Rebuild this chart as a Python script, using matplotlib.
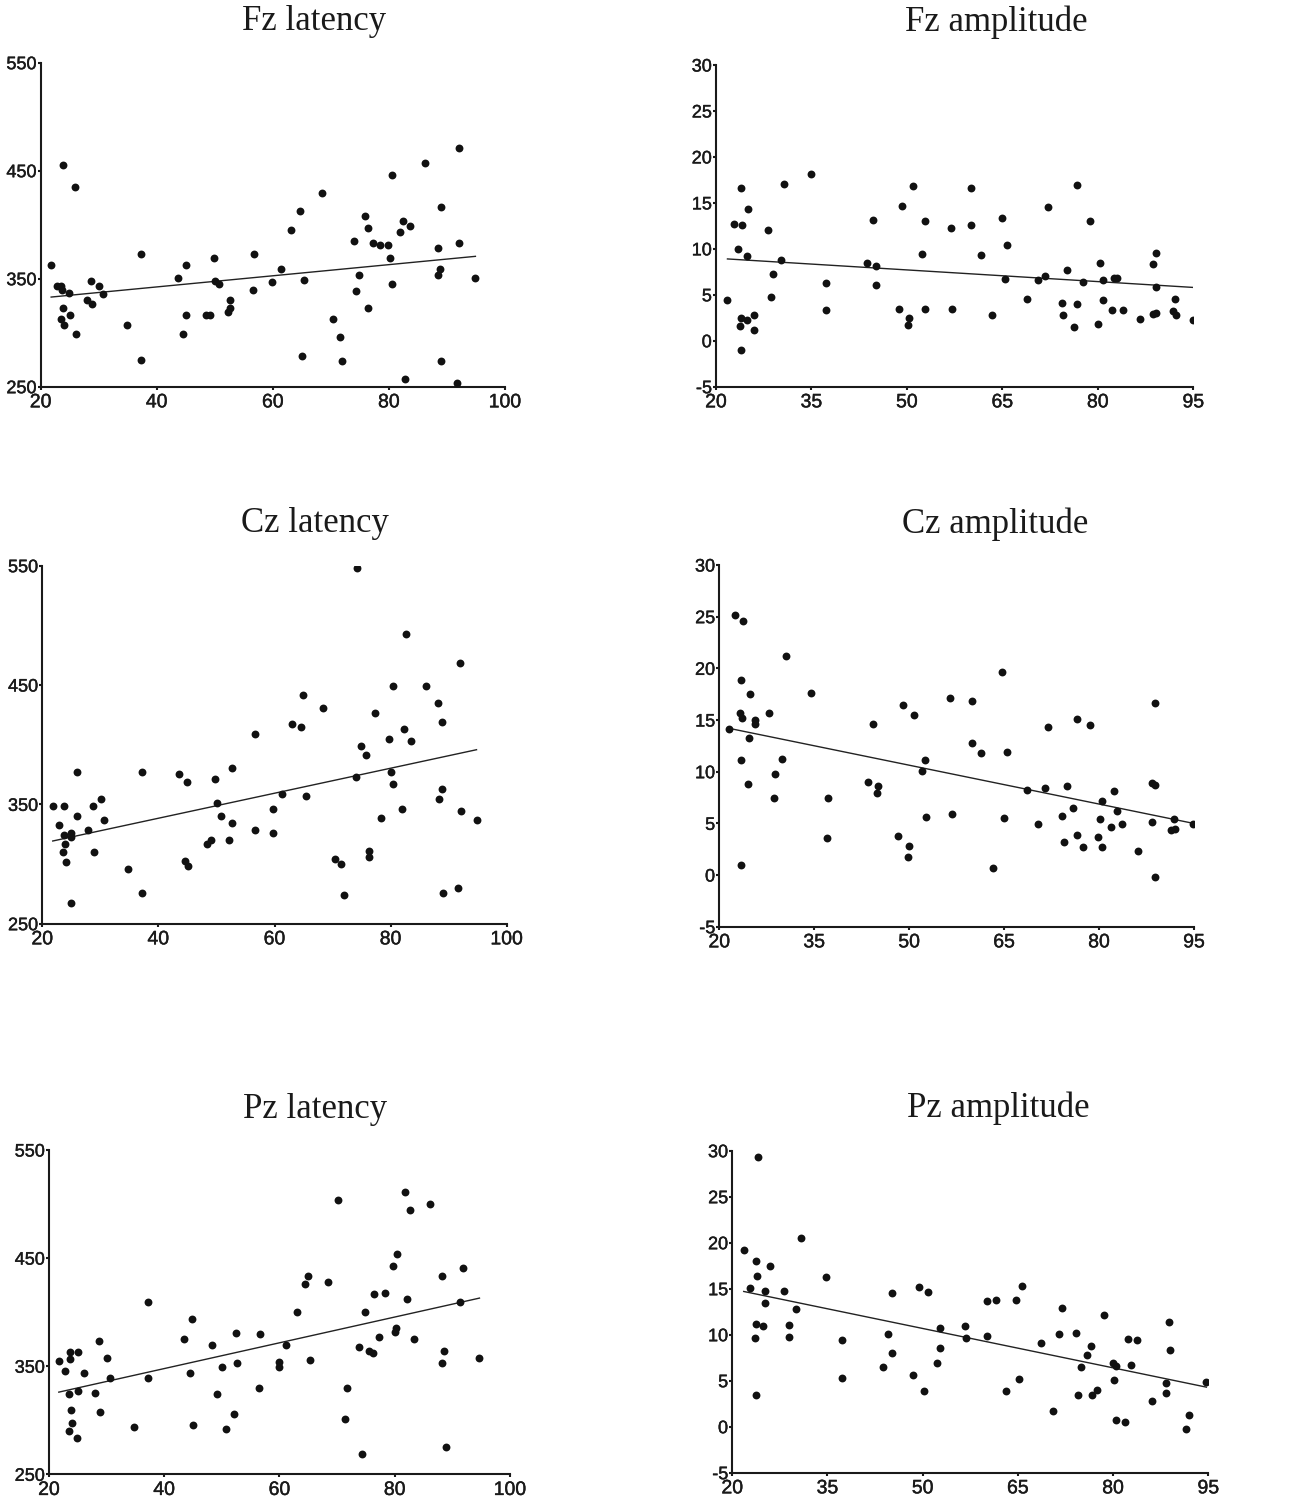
import numpy as np
import matplotlib
matplotlib.use("Agg")
import matplotlib.pyplot as plt
import matplotlib.patheffects as pe

plt.rcParams["axes.unicode_minus"] = False

# ---- data ----------------------------------------------------------------
fz_lat_x = [21.8, 22.8, 23.5, 23.7, 23.8, 23.8, 23.5, 24.1, 24.9, 25.0, 25.9, 26.0,
            28.0, 28.7, 28.9, 30.1, 30.7, 34.8, 37.2, 37.2, 43.6, 44.5, 45.0, 45.1,
            48.4, 49.1, 49.9, 50.1, 50.8, 52.3, 52.6, 52.6, 56.6, 56.8, 59.9, 61.4,
            63.1, 64.6, 65.1, 65.4, 68.5, 70.4, 71.5, 71.9, 74.0, 74.4, 74.9, 75.8,
            76.4, 76.4, 77.3, 78.5, 79.8, 80.2, 80.5, 80.5, 81.9, 82.4, 82.8, 83.6,
            86.2, 88.4, 88.4, 88.8, 88.9, 89.0, 91.7, 92.0, 92.1, 94.9]
fz_lat_y = [363, 343.5, 343.5, 339.5, 455, 323, 313, 307, 337, 316, 435, 299,
            330, 347.5, 327, 343, 335.5, 307, 373, 275, 351, 299, 363, 316,
            316, 316, 369, 348, 345, 319, 330, 323, 339.5, 373, 347, 359,
            395, 413, 278, 349, 429, 313, 296, 273.5, 385, 339, 353, 408,
            397, 323, 383, 381, 381, 369, 445.7, 345, 393, 403, 257, 399,
            457, 378.7, 353, 359, 416.7, 273.5, 253, 471, 383, 351]
fz_lat_fit = ([21.8, 94.9], [333, 370.7])

fz_amp_x = [21.8, 22.8, 23.5, 23.7, 23.9, 23.9, 24.0, 24.1, 24.9, 24.9, 25.1, 26.0,
            26.0, 28.2, 28.7, 29.0, 30.2, 30.7, 34.9, 37.3, 37.3, 43.7, 44.6, 45.2,
            45.2, 48.7, 49.3, 50.1, 50.3, 51.0, 52.4, 52.8, 52.8, 56.9, 57.1, 60.1,
            60.1, 61.6, 63.4, 64.9, 65.4, 65.7, 68.9, 70.6, 71.7, 72.2, 74.4, 74.6,
            75.2, 76.2, 76.7, 76.7, 77.7, 78.7, 80.1, 80.3, 80.8, 80.8, 82.2, 82.6,
            83.0, 83.9, 86.6, 88.6, 88.6, 89.1, 89.1, 89.2, 91.8, 92.1, 92.3, 95.0]
fz_amp_y = [4.4, 12.7, 10.0, 1.6, 2.5, 16.6, -1.0, 12.6, 2.3, 9.2, 14.3, 2.8,
            1.2, 12.0, 4.8, 7.3, 8.8, 17.0, 18.1, 6.3, 3.3, 8.5, 13.1, 8.1,
            6.1, 3.5, 14.7, 1.7, 2.5, 16.8, 9.4, 13.0, 3.5, 12.3, 3.5, 16.6,
            12.6, 9.3, 2.8, 13.4, 6.7, 10.4, 4.5, 6.6, 7.0, 14.6, 4.1, 2.8,
            7.7, 1.5, 16.9, 4.0, 6.4, 13.0, 1.8, 8.5, 6.6, 4.4, 3.3, 6.8,
            6.8, 3.3, 2.4, 8.3, 2.9, 9.5, 3.0, 5.8, 3.2, 4.5, 2.8, 2.3]
fz_amp_fit = ([21.8, 95.0], [8.9, 5.8])

cz_lat_x = [21.8, 22.8, 23.5, 23.7, 23.8, 23.9, 24.1, 24.9, 24.9, 24.9, 25.9, 26.0,
            27.9, 28.7, 28.9, 30.1, 30.7, 34.8, 37.2, 37.2, 43.6, 44.5, 44.9, 45.1,
            48.3, 49.1, 49.8, 50.1, 50.8, 52.2, 52.6, 52.6, 56.6, 56.7, 59.8, 59.8,
            61.3, 63.1, 64.5, 64.9, 65.4, 68.4, 70.4, 71.4, 71.9, 74.0, 74.2, 74.9,
            75.8, 76.3, 76.3, 77.3, 78.4, 79.7, 80.0, 80.4, 80.4, 81.9, 82.3, 82.7,
            83.5, 86.1, 88.2, 88.3, 88.8, 88.8, 89.0, 91.6, 91.9, 92.1, 94.8]
cz_lat_y = [349, 332.4, 310, 348.6, 324.3, 316.5, 301.7, 267.6, 326.3, 322.6, 376.8, 340.2,
            328.2, 349, 310.3, 354.2, 336.6, 296, 377, 275.4, 375.1, 302.2, 369, 298,
            316.5, 320, 371, 350.8, 340.2, 320, 334.4, 380.7, 328.2, 409.2, 346.4, 326.3,
            358.7, 417, 415, 441.3, 357, 431, 304.2, 300, 273.7, 372.9, 548, 399,
            391.3, 311, 306.3, 426.5, 338.5, 405, 377, 448.9, 366.8, 346.4, 412.8, 492.7,
            403, 448.9, 435.2, 354.7, 363, 418.7, 275.7, 280, 468.7, 344.7, 337.2]
cz_lat_fit = ([21.8, 94.8], [319.3, 395.8])

cz_amp_x = [21.5, 22.5, 23.3, 23.5, 23.5, 23.5, 23.6, 23.7, 24.6, 24.7, 24.9, 25.7,
            25.7, 27.8, 28.6, 28.8, 29.9, 30.5, 34.5, 37.0, 37.1, 43.5, 44.3, 44.9,
            45.0, 48.3, 49.1, 49.8, 50.0, 50.7, 52.1, 52.5, 52.6, 56.5, 56.8, 59.9,
            59.9, 61.3, 63.2, 64.6, 65.0, 65.4, 68.6, 70.3, 71.4, 71.9, 74.1, 74.4,
            74.9, 75.9, 76.5, 76.5, 77.4, 78.6, 79.9, 80.1, 80.5, 80.5, 81.9, 82.3,
            82.8, 83.6, 86.2, 88.3, 88.3, 88.8, 88.9, 88.9, 91.4, 91.8, 92.0, 94.8]
cz_amp_y = [14.1, 25.2, 15.7, 18.9, 11.1, 1.0, 15.2, 24.6, 8.8, 13.3, 17.5, 15.0,
            14.6, 15.7, 7.5, 9.8, 11.2, 21.2, 17.6, 3.6, 7.5, 9.0, 14.6, 7.9,
            8.6, 3.8, 16.5, 1.7, 2.8, 15.5, 10.1, 11.1, 5.6, 17.1, 5.9, 16.8,
            12.8, 11.8, 0.7, 19.6, 5.5, 11.9, 8.2, 4.9, 8.4, 14.3, 5.7, 3.2,
            8.6, 6.5, 15.1, 3.9, 2.7, 14.5, 3.7, 5.4, 7.2, 2.7, 4.6, 8.1,
            6.2, 4.9, 2.3, 5.1, 8.9, 16.6, 8.7, -0.2, 4.4, 5.4, 4.5, 4.9]
cz_amp_fit = ([21.5, 94.9], [14.2, 5.0])

pz_lat_x = [21.7, 22.8, 23.4, 23.5, 23.7, 23.7, 23.8, 24.0, 24.9, 25.0, 25.0, 26.0,
            28.0, 28.6, 28.8, 30.1, 30.6, 34.7, 37.2, 37.2, 43.5, 44.4, 44.9, 45.0,
            48.3, 49.1, 50.0, 50.8, 52.1, 52.5, 52.6, 56.5, 56.7, 59.9, 59.9, 61.2,
            63.0, 64.5, 64.9, 65.3, 68.5, 70.2, 71.3, 71.8, 73.8, 74.3, 74.8, 75.6,
            76.3, 76.4, 77.3, 78.3, 79.7, 80.1, 80.3, 80.4, 81.7, 82.2, 82.6, 83.4,
            86.1, 88.2, 88.2, 88.6, 88.9, 91.4, 91.9, 94.7]
pz_lat_y = [355.2, 345.7, 324.1, 289.6, 363.3, 357.1, 309.3, 297.6, 283.7, 327.2, 363.3, 343.5,
            325, 373.4, 307.5, 357.4, 339.5, 293.9, 339.5, 409.5, 375, 343.5, 393.5, 295.8,
            369.7, 324.1, 349.7, 292, 305.6, 381.1, 353.4, 329.7, 379.6, 354, 349.7, 369.7,
            400.2, 425.8, 433.8, 355.6, 427.7, 503.8, 301.6, 329.7, 368.2, 269, 400.2, 364.2,
            362, 416.9, 377.1, 418.1, 442.4, 381.4, 385.1, 453.9, 510.9, 412.2, 494.5, 375.3,
            499.8, 433.8, 353.4, 363.6, 274.8, 409.5, 441.2, 357.7]
pz_lat_fit = ([21.7, 94.7], [326, 413])

pz_amp_x = [21.8, 22.8, 23.6, 23.7, 23.8, 23.8, 23.9, 24.1, 24.9, 25.1, 25.2, 26.0,
            28.1, 28.9, 29.0, 30.1, 30.8, 34.8, 37.3, 37.3, 43.7, 44.6, 45.1, 45.2,
            48.5, 49.4, 50.2, 50.9, 52.3, 52.7, 52.7, 56.7, 56.9, 60.1, 60.1, 61.5,
            63.2, 64.7, 65.2, 65.6, 68.6, 70.5, 71.5, 71.9, 74.1, 74.4, 75.0, 75.9,
            76.5, 76.6, 77.4, 78.6, 80.0, 80.1, 80.5, 80.5, 81.9, 82.4, 82.8, 83.7,
            86.2, 88.3, 88.3, 88.8, 89.0, 91.5, 92.0, 94.7]
pz_amp_y = [19.2, 15.1, 9.6, 3.5, 18.0, 11.2, 16.4, 29.3, 10.9, 14.7, 13.4, 17.5,
            14.8, 9.8, 11.1, 12.8, 20.5, 16.3, 5.3, 9.4, 6.5, 10.1, 14.5, 8.0,
            5.6, 15.2, 3.9, 14.6, 6.9, 8.6, 10.7, 11.0, 9.6, 13.7, 9.9, 13.8,
            3.9, 13.8, 5.2, 15.3, 9.1, 1.7, 10.1, 12.9, 10.2, 3.4, 6.5, 7.8,
            8.8, 3.5, 4.0, 12.1, 6.9, 5.1, 6.6, 0.7, 0.5, 9.5, 6.7, 9.4,
            2.8, 4.8, 3.7, 11.4, 8.3, -0.2, 1.3, 4.9]
pz_amp_fit = ([21.8, 94.7], [14.7, 4.3])

lat_xticks = [20, 40, 60, 80, 100]
lat_yticks = [250, 350, 450, 550]
amp_xticks = [20, 35, 50, 65, 80, 95]
amp_yticks = [-5, 0, 5, 10, 15, 20, 25, 30]

W, H = 1311, 1502
fig = plt.figure(figsize=(W / 100, H / 100), dpi=100)

def px_axes(l, t, r, b):
    return fig.add_axes([l / W, 1 - b / H, (r - l) / W, (b - t) / H])

panels = [
    # (box in px, x, y, fit, kind, title, title pos)
    ((40.7, 62.7, 505, 386.7), fz_lat_x, fz_lat_y, fz_lat_fit, "lat", "Fz latency", (314, 22)),
    ((716, 65, 1193.3, 386.7), fz_amp_x, fz_amp_y, fz_amp_fit, "amp", "Fz amplitude", (996, 22)),
    ((42.3, 565.7, 506.7, 923.7), cz_lat_x, cz_lat_y, cz_lat_fit, "lat", "Cz latency", (315, 524)),
    ((719.3, 565, 1194, 926.7), cz_amp_x, cz_amp_y, cz_amp_fit, "amp", "Cz amplitude", (995, 524)),
    ((49, 1150, 510, 1474.3), pz_lat_x, pz_lat_y, pz_lat_fit, "lat", "Pz latency", (315, 1110)),
    ((732.3, 1150.7, 1208.3, 1472.7), pz_amp_x, pz_amp_y, pz_amp_fit, "amp", "Pz amplitude", (998, 1108)),
]

thick = [pe.withStroke(linewidth=0.3, foreground="#1a1a1a")]

for box, x, y, fit, kind, title, tpos in panels:
    ax = px_axes(*box)
    ax.scatter(x, y, s=32, color="#111111", zorder=3, linewidths=0)
    ax.plot(fit[0], fit[1], color="#222222", lw=1.0, zorder=2)
    if kind == "lat":
        ax.set_xlim(20, 100)
        ax.set_ylim(250, 550)
        ax.set_xticks(lat_xticks)
        ax.set_yticks(lat_yticks)
    else:
        ax.set_xlim(20, 95)
        ax.set_ylim(-5, 30)
        ax.set_xticks(amp_xticks)
        ax.set_yticks(amp_yticks)
    for s in ["top", "right"]:
        ax.spines[s].set_visible(False)
    for s in ["left", "bottom"]:
        ax.spines[s].set_linewidth(1.5)
        ax.spines[s].set_color("#1a1a1a")
    ax.tick_params(axis="y", length=2, width=1.5, pad=1, labelsize=13, colors="#1a1a1a")
    ax.tick_params(axis="x", length=2, width=1.5, pad=3.5, labelsize=14, colors="#1a1a1a")
    for lab in ax.get_xticklabels() + ax.get_yticklabels():
        lab.set_family("Liberation Sans")
        lab.set_path_effects(thick)
    for lab in ax.get_yticklabels():
        lab.set_verticalalignment("center_baseline")
    ax.patch.set_alpha(0)
    fig.text(tpos[0] / W, 1 - tpos[1] / H, title, ha="center", va="center",
             fontsize=25, family="Liberation Serif", color="#1a1a1a")

fig.savefig("out.png", dpi=100)
